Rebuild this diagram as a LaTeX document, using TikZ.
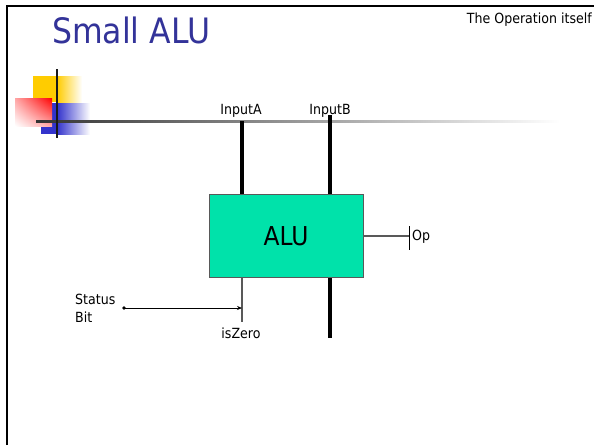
\documentclass[tikz,border=0pt]{standalone}
\usepackage{fontspec}
\setmainfont{DejaVu Sans}[FakeStretch=0.9]
\usetikzlibrary{arrows.meta,shadings}
\definecolor{titleblue}{HTML}{333399}
\definecolor{alugreen}{HTML}{00E2AA}
\definecolor{decoyellow}{HTML}{FFCC00}
\definecolor{decoblue}{HTML}{3333CC}
\begin{document}
\begin{tikzpicture}[x=1pt,y=-1pt,
  lbl/.style={inner sep=0pt, font=\fontsize{14}{17}\selectfont},
  bus/.style={line width=4pt},
  wire/.style={line width=1.5pt, draw=black!65},
  alubox/.style={draw=black!65, line width=1pt, fill=alugreen, minimum width=154pt, minimum height=83pt, inner sep=0pt, font=\fontsize{26}{26}\selectfont}]
\useasboundingbox (0,0) rectangle (594,445);
\fill[white] (0,0) rectangle (594,445);
% slide frame
\draw[line width=2.5pt] (7,445) -- (7,6) -- (594,6);
% title
\node[anchor=base west, inner sep=0pt, text=titleblue, font=\fontsize{35}{35}\selectfont] (title) at (52,43) {Small ALU};
\node[lbl, anchor=base east] (oper) at (592,23) {The Operation itself};
% decoration
\fill[decoyellow] (33,76) rectangle (57,102);
\shade[left color=decoyellow, right color=white] (57,76) rectangle (82,102);
\fill[decoblue] (41,103) rectangle (57,134);
\shade[left color=decoblue, right color=white] (57,103) rectangle (90,134);
\shade[upper right=red, upper left=red!35, lower right=red!35, lower left=white] (15,98) rectangle (52,126);
\shade[left color=black!80, right color=white] (36,120) rectangle (560,122);
\draw[line width=1.5pt, black!90] (57,69) -- (57,138);
% ALU
\node[alubox] (alu) at (286,236) {ALU};
\node[lbl, anchor=base] (inA) at (241,114) {InputA};
\node[lbl, anchor=base] (inB) at (330,114) {InputB};
\coordinate (aTop) at (242,121);
\coordinate (bTop) at (330,115);
\draw[bus] (aTop) -- (aTop |- alu.north);
\draw[bus] (bTop) -- (bTop |- alu.north);
\coordinate (bBot) at (330,338);
\draw[bus] (bBot |- alu.south) -- (bBot);
% Op
\coordinate (opT) at (409,226);
\coordinate (opB) at (409,250);
\draw[wire] (alu.east) -- (alu.east -| opT);
\draw[line width=1pt] (opT) -- (opB);
\node[lbl, anchor=west] (op) at (412,237) {Op};
% isZero
\coordinate (zBot) at (242,322);
\draw[wire] (zBot |- alu.south) -- (zBot);
\node[lbl, anchor=center] (isz) at (241,333) {isZero};
% status bit
\node[lbl, anchor=west, align=left, font=\fontsize{14}{18}\selectfont] (status) at (75,308) {Status\\Bit};
\coordinate (dot) at (124,308);
\fill (dot) circle (1.8pt);
\draw[line width=0.8pt, -{Stealth[length=5pt,width=4pt]}] (dot) -- (dot -| zBot);
\end{tikzpicture}
\end{document}
